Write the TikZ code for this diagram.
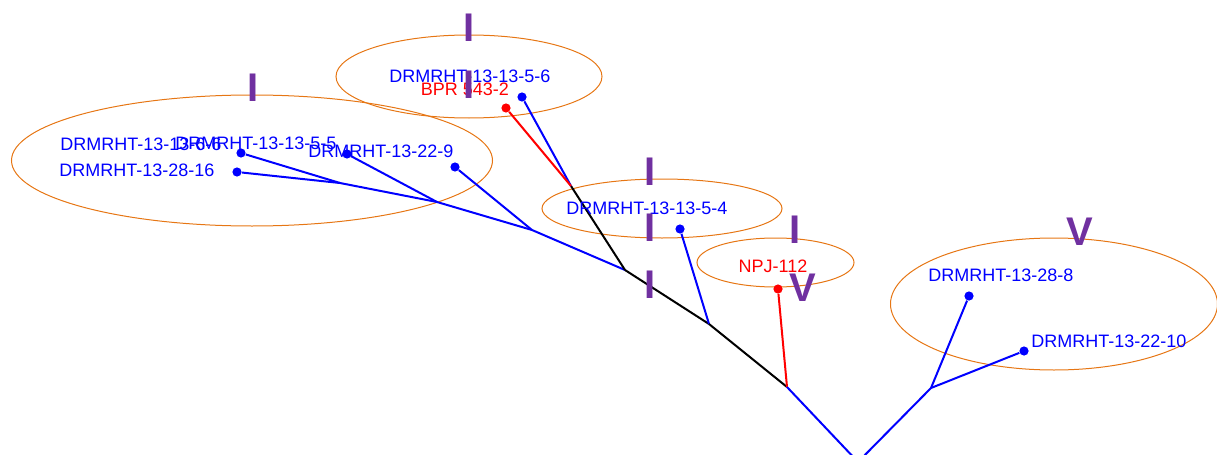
\documentclass[tikz,border=0pt]{standalone}
\usepackage{fontspec}
\setmainfont{Liberation Sans}
\usetikzlibrary{shapes.geometric, positioning}
\definecolor{leafblue}{RGB}{0,0,255}
\definecolor{leafred}{RGB}{255,0,0}
\definecolor{ring}{RGB}{230,118,20}
\definecolor{gradepurple}{RGB}{112,48,160}
\def\U{0.5pt}
\def\R{4.6pt}
\tikzstyle{every node} = [font=\fontsize{9}{10}\selectfont, inner sep=0pt]
\tikzstyle{edge}    = [line width=1pt]
\tikzstyle{leafdot} = [circle, minimum size=\R, inner sep=0pt]
\tikzstyle{leaf}    = [text=leafblue]
\tikzstyle{leafr}   = [text=leafred]
\tikzstyle{clade}   = [ellipse, draw=ring, line width=0.5pt, inner sep=0pt]
\tikzstyle{grade}   = [font=\fontsize{20}{20}\selectfont\bfseries, text=gradepurple]

\begin{document}
\begin{tikzpicture}[x=\U, y=-\U]
\useasboundingbox (0,0) rectangle (1217,455);
% Clades
    \node (c1) [clade, minimum width=266*\U, minimum height=83*\U]  at (469,76.5)  {};
    \node (c2) [clade, minimum width=481*\U, minimum height=131*\U] at (252,160.5) {};
    \node (c3) [clade, minimum width=240*\U, minimum height=59*\U]  at (662,208.5) {};
    \node (c4) [clade, minimum width=157*\U, minimum height=49*\U]  at (775.5,262.5) {};
    \node (c5) [clade, minimum width=327*\U, minimum height=132*\U] at (1054,304) {};

% Junctions
    \coordinate (root) at (858,462);
    \coordinate (j1) at (340,183);
    \coordinate (j2) at (437,202);
    \coordinate (j3) at (532,230);
    \coordinate (j4) at (625,270);
    \coordinate (j5) at (571,186);
    \coordinate (j6) at (709,324);
    \coordinate (j7) at (787,387);
    \coordinate (j8) at (931,388);

% Tips
    \node (t66)   [leafdot, fill=leafblue] at (241,153) {};
    \node (t2816) [leafdot, fill=leafblue] at (237,172) {};
    \node (t55)   [leafdot, fill=leafblue] at (347,154) {};
    \node (t229)  [leafdot, fill=leafblue] at (455,167) {};
    \node (t56)   [leafdot, fill=leafblue] at (522,97)  {};
    \node (tbpr)  [leafdot, fill=leafred]  at (506,108) {};
    \node (t54)   [leafdot, fill=leafblue] at (680,229) {};
    \node (tnpj)  [leafdot, fill=leafred]  at (778,289) {};
    \node (t288)  [leafdot, fill=leafblue] at (969,296) {};
    \node (t2210) [leafdot, fill=leafblue] at (1024,351) {};

% Branches
    \draw [edge, leafblue] (t66)   -- (j1);
    \draw [edge, leafblue] (t2816) -- (j1);
    \draw [edge, leafblue] (j1)    -- (j2);
    \draw [edge, leafblue] (t55)   -- (j2);
    \draw [edge, leafblue] (j2)    -- (j3);
    \draw [edge, leafblue] (t229)  -- (j3);
    \draw [edge, leafblue] (j3)    -- (j4);
    \draw [edge, black]    (j4)    -- (j5);
    \draw [edge, leafblue] (j5)    -- (t56);
    \draw [edge, leafred]  (j5)    -- (tbpr);
    \draw [edge, black]    (j4)    -- (j6);
    \draw [edge, leafblue] (j6)    -- (t54);
    \draw [edge, black]    (j6)    -- (j7);
    \draw [edge, leafred]  (j7)    -- (tnpj);
    \draw [edge, leafblue] (j7)    -- (root);
    \draw [edge, leafblue] (root)  -- (j8);
    \draw [edge, leafblue] (j8)    -- (t288);
    \draw [edge, leafblue] (j8)    -- (t2210);

% Tip labels
    \node (l66)   [leaf]  at (141,144)  {DRMRHT-13-13-6-6};
    \node (l55)   [leaf]  at (256,143)  {DRMRHT-13-13-5-5};
    \node (l229)  [leaf]  at (381,151)  {DRMRHT-13-22-9};
    \node (l2816) [leaf]  at (137,170)  {DRMRHT-13-28-16};
    \node (l56)   [leaf]  at (470,76)   {DRMRHT-13-13-5-6};
    \node (lbpr)  [leafr] at (465,89)   {BPR 543-2};
    \node (l54)   [leaf]  at (647,208)  {DRMRHT-13-13-5-4};
    \node (lnpj)  [leafr] at (773,266)  {NPJ-112};
    \node (l288)  [leaf]  at (1001,275) {DRMRHT-13-28-8};
    \node (l2210) [leaf]  at (1109,341) {DRMRHT-13-22-10};

% Grade marks
    \node (g1) [grade] at (469.5,28) {I};
    \node (g2) [grade] at (469,85)   {I};
    \node (g3) [grade] at (253,88)   {I};
    \node (g4) [grade] at (650,172)  {I};
    \node (g5) [grade] at (650,228)  {I};
    \node (g6) [grade] at (650,285)  {I};
    \node (g7) [grade] at (795,230)  {I};
    \node (g8) [grade] at (803,288)  {V};
    \node (g9) [grade] at (1080,231.5) {V};
\end{tikzpicture}
\end{document}
